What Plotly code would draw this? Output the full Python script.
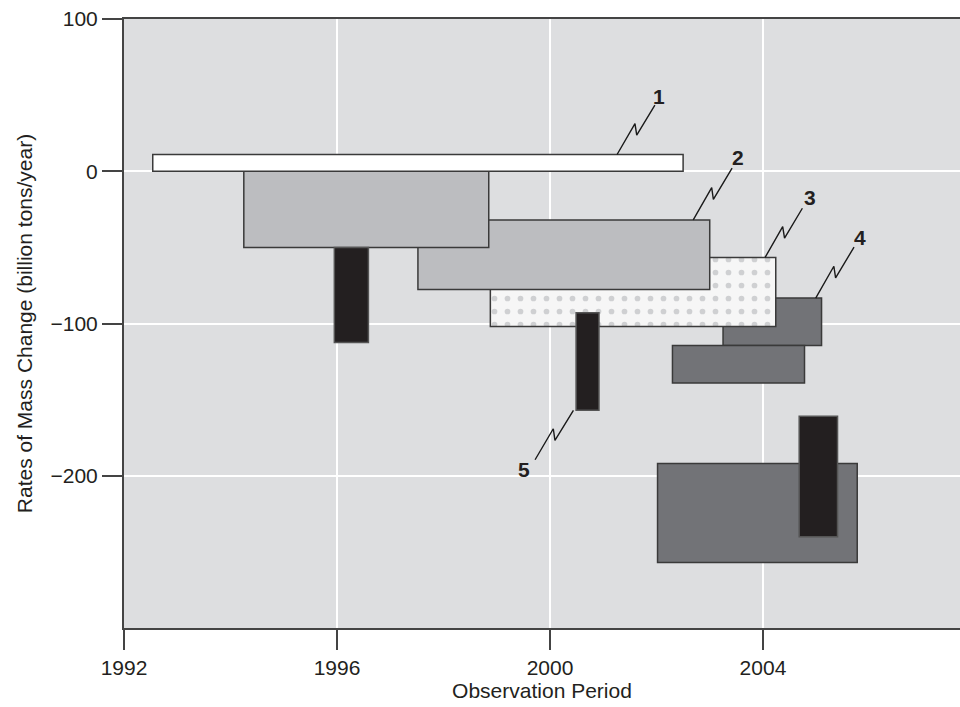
import plotly.graph_objects as go
import math

# ---- data (draw order: back to front) ----
series_id = ["4", "4", "4", "3", "2", "2", "1", "5", "5", "5"]
start = [2003.25, 2002.30, 2002.02, 1998.88, 1997.52, 1994.25, 1992.54, 1995.95, 2000.49, 2004.68]
end   = [2005.10, 2004.78, 2005.77, 2004.24, 2003.00, 1998.85, 2002.50, 1996.59, 2000.92, 2005.40]
low   = [-114.5, -139.0, -257.0, -102.0, -77.6, -50.0, 0.0, -112.5, -157.0, -240.0]
high  = [-83.3, -114.5, -192.0, -56.6, -32.0, 0.0, 11.0, -50.0, -93.0, -161.0]

labels = ["1", "2", "3", "4", "5"]
# leader lines: point on box, end of leader, label position
leader_box = [(2001.26, 11.0), (2002.69, -32.0), (2004.04, -56.6), (2004.99, -83.3), (2000.44, -157.0)]
leader_tip = [(2001.97, 43.4), (2003.42, 2.0), (2004.74, -24.3), (2005.71, -49.8), (1999.72, -189.5)]
label_pos = [(2002.05, 49.0), (2003.54, 9.0), (2004.88, -17.5), (2005.83, -43.8), (1999.51, -195.7)]

x_ticks = [1992, 1996, 2000, 2004]
y_ticks = [100, 0, -100, -200]
x_range = [1992, 2007.7]
y_range = [-300, 100]

styles = {
    "1": dict(color="#ffffff"),
    "2": dict(color="#bcbdc0"),
    "3": dict(color="#f6f6f6", pattern=dict(shape=".", fgcolor="#cfd0d2", bgcolor="#f6f6f6", size=13, solidity=0.15, fillmode="replace")),
    "4": dict(color="#727377"),
    "5": dict(color="#231f20"),
}

W, H = 960, 707
ML, MR, MT, MB = 124, 0, 19, 79
pw, ph = W - ML - MR, H - MT - MB
pxx = pw / (x_range[1] - x_range[0])
pxy = ph / (y_range[1] - y_range[0])

fig = go.Figure()
for i in range(len(start)):
    sid = series_id[i]
    st = styles[sid]
    marker = dict(color=st["color"],
                  line=dict(color="#3a3a3a" if sid != "5" else "#555555", width=1.5))
    if "pattern" in st:
        marker["pattern"] = st["pattern"]
    fig.add_trace(go.Bar(
        x=[(start[i] + end[i]) / 2], width=[end[i] - start[i]],
        base=[low[i]], y=[high[i] - low[i]],
        marker=marker, showlegend=False, hoverinfo="skip"))

# zigzag leader lines (shape computed in screen space, converted to data)
for (bx, by), (tx, ty) in zip(leader_box, leader_tip):
    if by < ty:
        p0, p1 = (bx, by), (tx, ty)
    else:
        p0, p1 = (tx, ty), (bx, by)
    sx0, sy0 = p0[0] * pxx, -p0[1] * pxy
    sx1, sy1 = p1[0] * pxx, -p1[1] * pxy
    dx, dy = sx1 - sx0, sy1 - sy0
    L = math.hypot(dx, dy)
    nx, ny = -dy / L, dx / L
    peak = (sx0 + 0.57 * dx - 4.6 * nx, sy0 + 0.57 * dy - 4.6 * ny)
    vall = (sx0 + 0.44 * dx + 3.8 * nx, sy0 + 0.44 * dy + 3.8 * ny)
    pts = [(sx0, sy0), peak, vall, (sx1, sy1)]
    fig.add_trace(go.Scatter(
        x=[p[0] / pxx for p in pts], y=[-p[1] / pxy for p in pts],
        mode="lines", line=dict(color="#1a1a1a", width=1.4),
        showlegend=False, hoverinfo="skip"))

for lab, (lx, ly) in zip(labels, label_pos):
    fig.add_annotation(x=lx, y=ly, text="<b>%s</b>" % lab, showarrow=False,
                       font=dict(family="Liberation Sans, Arial, sans-serif", size=21, color="#231f20"),
                       xanchor="center", yanchor="middle")

font_main = "Liberation Sans, Arial, sans-serif"
fig.update_layout(
    width=W, height=H,
    margin=dict(l=ML, r=MR, t=MT, b=MB),
    barmode="overlay",
    paper_bgcolor="#ffffff",
    plot_bgcolor="#dddee0",
    font=dict(family=font_main, size=21, color="#231f20"),
    xaxis=dict(range=x_range, tickvals=x_ticks, ticks="outside", ticklen=20, tickwidth=1.5,
               tickcolor="#444444", showline=True, linecolor="#444444", linewidth=2, mirror=True,
               showgrid=True, gridcolor="#ffffff", gridwidth=2, zeroline=False,
               title=dict(text="Observation Period", standoff=4, font=dict(size=21))),
    yaxis=dict(range=y_range, tickvals=y_ticks, ticks="outside", ticklen=20, tickwidth=1.5,
               tickcolor="#444444", showline=True, linecolor="#444444", linewidth=2,
               showgrid=True, gridcolor="#ffffff", gridwidth=2, zeroline=False,
               title=dict(text="Rates of Mass Change (billion tons/year)", standoff=12, font=dict(size=21))),
)

fig.write_html("out.html", config={"displayModeBar": False},
               post_script="document.body.style.margin='0px';")
